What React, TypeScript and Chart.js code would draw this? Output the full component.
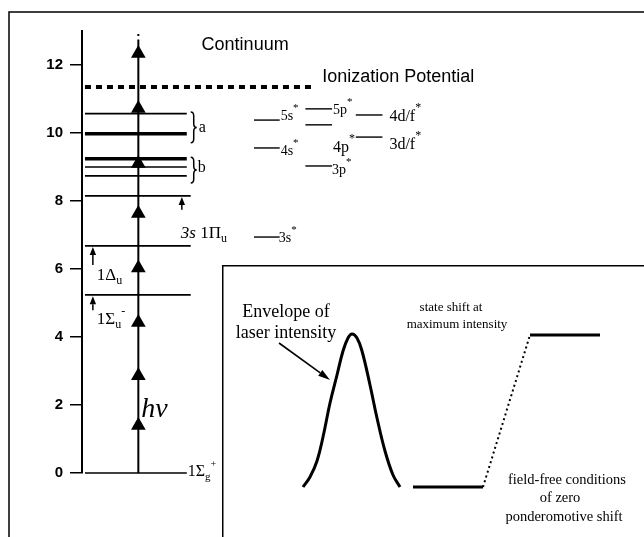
import React, { useEffect, useRef } from 'react';
import { Chart, registerables } from 'chart.js';
Chart.register(...registerables);

// ---------------- DATA (energies in eV) ----------------
const yTicks = [0, 2, 4, 6, 8, 10, 12];
const molecularLevels = [0, 5.24, 6.68, 8.15, 8.74, 9.0, 9.24, 9.98, 10.57];
const thickLevels = [9.24, 9.98];
const ionizationPotential = 11.35;
const photonArrowheads = [1.4, 2.86, 4.43, 6.03, 7.63, 9.1, 10.72, 12.34];
const photonTop = 12.75;
const rydbergNames = ['3s', '4s', '5s', '3p', '4p', '5p', '3d/f', '4d/f'];
const rydbergEnergies = [6.94, 9.56, 10.38, 9.03, 10.24, 10.71, 9.88, 10.53];
const rydbergSeries = [0, 0, 0, 1, 1, 1, 2, 2];
const groupA = [10.62, 9.71];
const groupB = [9.29, 8.53];
const stateMarkers = [
  { from: 7.74, to: 8.12 },
  { from: 6.12, to: 6.65 },
  { from: 4.79, to: 5.2 },
];

// inset (arbitrary time / intensity units)
const envelopeTime = [81, 88, 95, 101, 108, 115, 121, 126, 130, 135, 140, 148, 155, 163, 171, 178];
const envelopeIntensity = [50, 60, 76, 100, 134, 162, 186, 199, 203, 199, 186, 152, 119, 86, 62, 50];
const fieldFreeLevel = 50;
const shiftedLevel = 202;
const shiftTimes = [191, 261, 308, 378];

// ---------------- LAYOUT ----------------
const SERIF = '"Liberation Serif", "Times New Roman", serif';
const SANS = '"Liberation Sans", Arial, sans-serif';
const LEVEL_X0 = 3;
const levelEnds = [106, 110, 110, 110, 106, 106, 106, 106, 106];
const seriesCols = [[174, 200], [226, 253], [277, 304]];
const PHOTON_X = 57;
const IP_END = 236;
const MARKER_X = [101, 11, 11];
const BRACE_X = 110;

type Seg = { t: string; size: number; style?: string; weight?: string; family?: string; dy?: number };
type Lbl = { x: number; y: number; segs: Seg[]; align?: 'left' | 'center'; base?: CanvasTextBaseline };

const sup = (t: string, size = 11, dy = -9): Seg => ({ t, size, dy });
const sub = (t: string, size = 12, dy = 4): Seg => ({ t, size, dy });

const mainLabels: Lbl[] = [
  { x: 121, y: 12.59, base: 'middle', segs: [{ t: 'Continuum', size: 18, family: SANS }] },
  { x: 243, y: 11.65, base: 'middle', segs: [{ t: 'Ionization Potential', size: 18, family: SANS }] },
  { x: 118, y: 10.15, base: 'middle', segs: [{ t: 'a', size: 16 }] },
  { x: 117, y: 8.97, base: 'middle', segs: [{ t: 'b', size: 16 }] },
  { x: 100, y: 6.91, segs: [{ t: '3s', size: 17, style: 'italic' }, { t: ' 1Π', size: 17 }, sub('u')] },
  { x: 15, y: 5.68, segs: [{ t: '1Δ', size: 17 }, sub('u')] },
  { x: 15, y: 4.38, segs: [{ t: '1Σ', size: 17 }, sub('u'), sup('-', 12, -9)] },
  { x: 60, y: 1.65, segs: [{ t: 'hν', size: 28, style: 'italic' }] },
  { x: 107, y: -0.09, segs: [{ t: '1Σ', size: 16 }, sub('g', 11, 4), sup('+', 10, -9)] },
  { x: 201, y: 10.38, segs: [{ t: rydbergNames[2], size: 14 }, sup('*')] },
  { x: 254, y: 10.56, segs: [{ t: rydbergNames[5], size: 14 }, sup('*')] },
  { x: 311, y: 10.35, segs: [{ t: rydbergNames[7], size: 16 }, sup('*', 12, -10)] },
  { x: 201, y: 9.35, segs: [{ t: rydbergNames[1], size: 14 }, sup('*')] },
  { x: 254, y: 9.44, segs: [{ t: rydbergNames[4], size: 16 }, sup('*', 12, -10)] },
  { x: 311, y: 9.53, segs: [{ t: rydbergNames[6], size: 16 }, sup('*', 12, -10)] },
  { x: 253, y: 8.79, segs: [{ t: rydbergNames[3], size: 14 }, sup('*')] },
  { x: 199, y: 6.79, segs: [{ t: rydbergNames[0], size: 14 }, sup('*')] },
];

const insetLabels: Lbl[] = [
  { x: 64, y: 220, align: 'center', segs: [{ t: 'Envelope of', size: 18 }] },
  { x: 64, y: 199, align: 'center', segs: [{ t: 'laser intensity', size: 18 }] },
  { x: 229, y: 226, align: 'center', segs: [{ t: 'state shift at', size: 13 }] },
  { x: 235, y: 209, align: 'center', segs: [{ t: 'maximum intensity', size: 13 }] },
  { x: 345, y: 53, align: 'center', segs: [{ t: 'field-free conditions', size: 14.5 }] },
  { x: 338, y: 35, align: 'center', segs: [{ t: 'of zero', size: 14.5 }] },
  { x: 342, y: 16, align: 'center', segs: [{ t: 'ponderomotive shift', size: 14.5 }] },
];
const insetPointer = { from: [57, 194], to: [108, 157] };

function drawRich(ctx: CanvasRenderingContext2D, px: number, py: number, l: Lbl) {
  ctx.save();
  ctx.fillStyle = '#000';
  ctx.textAlign = 'left';
  ctx.textBaseline = l.base || 'alphabetic';
  const fonts = l.segs.map(s => `${s.style || 'normal'} ${s.weight || 'normal'} ${s.size}px ${s.family || SERIF}`);
  let x = px;
  if (l.align === 'center') {
    let total = 0;
    l.segs.forEach((s, i) => { ctx.font = fonts[i]; total += ctx.measureText(s.t).width; });
    x -= total / 2;
  }
  l.segs.forEach((s, i) => {
    ctx.font = fonts[i];
    ctx.fillText(s.t, x, py + (s.dy || 0));
    x += ctx.measureText(s.t).width;
  });
  ctx.restore();
}

function arrowHead(ctx: CanvasRenderingContext2D, x0: number, y0: number, x1: number, y1: number, len: number, half: number) {
  const a = Math.atan2(y1 - y0, x1 - x0);
  const bx = x1 - len * Math.cos(a), by = y1 - len * Math.sin(a);
  ctx.beginPath();
  ctx.moveTo(x1, y1);
  ctx.lineTo(bx + half * Math.sin(a), by - half * Math.cos(a));
  ctx.lineTo(bx - half * Math.sin(a), by + half * Math.cos(a));
  ctx.closePath();
  ctx.fill();
  return [bx, by];
}

function drawBrace(ctx: CanvasRenderingContext2D, x0: number, yTop: number, yBot: number, w: number) {
  const xm = x0 + w * 0.5, x1 = x0 + w, ym = (yTop + yBot) / 2, q = Math.min(4, (yBot - yTop) / 6);
  ctx.beginPath();
  ctx.moveTo(x0, yTop);
  ctx.quadraticCurveTo(xm, yTop, xm, yTop + q);
  ctx.lineTo(xm, ym - q);
  ctx.quadraticCurveTo(xm, ym, x1, ym);
  ctx.quadraticCurveTo(xm, ym, xm, ym + q);
  ctx.lineTo(xm, yBot - q);
  ctx.quadraticCurveTo(xm, yBot, x0, yBot);
  ctx.stroke();
}

const seg = (x0: number, y0: number, x1: number, y1: number, width: number, extra: any = {}) => ({
  type: 'scatter' as const,
  showLine: true,
  data: [{ x: x0, y: y0 }, { x: x1, y: y1 }],
  borderColor: '#000',
  backgroundColor: '#000',
  borderWidth: width,
  pointRadius: 0,
  clip: false as any,
  ...extra,
});

export default function App() {
  const mainRef = useRef<HTMLCanvasElement>(null);
  const insetRef = useRef<HTMLCanvasElement>(null);

  useEffect(() => {
    const levelSets = molecularLevels.map((e, i) =>
      seg(LEVEL_X0, e, levelEnds[i], e, thickLevels.includes(e) ? 3.5 : 1.6));
    const rydSets = rydbergEnergies.map((e, i) =>
      seg(seriesCols[rydbergSeries[i]][0], e, seriesCols[rydbergSeries[i]][1], e, 1.4));

    const mainPlugin = {
      id: 'mainDeco',
      beforeDraw(chart: any) {
        const ctx = chart.ctx as CanvasRenderingContext2D;
        ctx.save();
        ctx.fillStyle = '#fff';
        ctx.fillRect(0, 0, chart.width, chart.height);
        ctx.strokeStyle = '#000';
        ctx.lineWidth = 1.5;
        ctx.beginPath();
        ctx.moveTo(9, chart.height);
        ctx.lineTo(9, 12);
        ctx.lineTo(chart.width, 12);
        ctx.stroke();
        ctx.restore();
      },
      afterDraw(chart: any) {
        const ctx = chart.ctx as CanvasRenderingContext2D;
        const xs = chart.scales.x, ys = chart.scales.y;
        ctx.save();
        ctx.strokeStyle = '#000';
        ctx.fillStyle = '#000';
        stateMarkers.forEach((m, i) => {
          const px = xs.getPixelForValue(MARKER_X[i]);
          const y0 = ys.getPixelForValue(m.from), y1 = ys.getPixelForValue(m.to);
          const [bx, by] = arrowHead(ctx, px, y0, px, y1, 8, 3.2);
          ctx.lineWidth = 1.5;
          ctx.beginPath();
          ctx.moveTo(px, y0);
          ctx.lineTo(bx, by);
          ctx.stroke();
        });
        ctx.lineWidth = 1.5;
        [groupA, groupB].forEach(g => {
          drawBrace(ctx, xs.getPixelForValue(BRACE_X), ys.getPixelForValue(g[0]), ys.getPixelForValue(g[1]), 6);
        });
        ctx.restore();
        mainLabels.forEach(l => drawRich(ctx, xs.getPixelForValue(l.x), ys.getPixelForValue(l.y), l));
      },
    };

    const main = new Chart(mainRef.current!, {
      type: 'scatter',
      data: {
        datasets: [
          ...levelSets,
          ...rydSets,
          seg(LEVEL_X0, ionizationPotential, IP_END, ionizationPotential, 4, { borderDash: [6, 5] }),
          seg(PHOTON_X, 0, PHOTON_X, photonTop, 2),
          {
            type: 'scatter',
            data: photonArrowheads.map(y => ({ x: PHOTON_X, y })),
            pointStyle: 'triangle',
            pointRadius: 8.5,
            backgroundColor: '#000',
            borderColor: '#000',
            borderWidth: 0,
            clip: false as any,
          },
          {
            type: 'scatter',
            data: [{ x: PHOTON_X, y: 12.88 }],
            pointStyle: 'rect',
            pointRadius: 1.4,
            backgroundColor: '#000',
            borderWidth: 0,
          },
        ] as any,
      },
      options: {
        animation: false,
        responsive: false,
        events: [],
        layout: { padding: { left: 8, right: 2, top: 31, bottom: 64 } },
        plugins: { legend: { display: false }, tooltip: { enabled: false } },
        scales: {
          x: { type: 'linear', display: false, min: 0, max: 560 },
          y: {
            type: 'linear',
            min: 0,
            max: 13,
            afterFit: (s: any) => { s.width = 74; },
            afterBuildTicks: (s: any) => { s.ticks = yTicks.map(v => ({ value: v })); },
            border: { display: true, color: '#000', width: 2 },
            grid: { drawOnChartArea: false, drawTicks: true, tickLength: 12, color: '#000', lineWidth: 1.5 },
            ticks: { color: '#000', padding: 7, font: { family: SANS, size: 15, weight: 'bold' } },
          },
        },
      } as any,
      plugins: [mainPlugin],
    });

    const envelope = {
      type: 'scatter' as const,
      showLine: true,
      data: envelopeTime.map((t, i) => ({ x: t, y: envelopeIntensity[i] })),
      borderColor: '#000',
      borderWidth: 3,
      pointRadius: 0,
      tension: 0.4,
      clip: false,
    };

    const insetPlugin = {
      id: 'insetDeco',
      beforeDraw(chart: any) {
        const ctx = chart.ctx as CanvasRenderingContext2D;
        ctx.save();
        ctx.fillStyle = '#fff';
        ctx.fillRect(0, 0, chart.width, chart.height);
        ctx.strokeStyle = '#000';
        ctx.lineWidth = 1.5;
        ctx.beginPath();
        ctx.moveTo(0.75, chart.height);
        ctx.lineTo(0.75, 0.75);
        ctx.lineTo(chart.width, 0.75);
        ctx.stroke();
        ctx.restore();
      },
      afterDraw(chart: any) {
        const ctx = chart.ctx as CanvasRenderingContext2D;
        const xs = chart.scales.x, ys = chart.scales.y;
        ctx.save();
        ctx.fillStyle = '#000';
        ctx.strokeStyle = '#000';
        const x0 = xs.getPixelForValue(insetPointer.from[0]), y0 = ys.getPixelForValue(insetPointer.from[1]);
        const x1 = xs.getPixelForValue(insetPointer.to[0]), y1 = ys.getPixelForValue(insetPointer.to[1]);
        const [bx, by] = arrowHead(ctx, x0, y0, x1, y1, 12, 3.5);
        ctx.lineWidth = 1.6;
        ctx.beginPath();
        ctx.moveTo(x0, y0);
        ctx.lineTo(bx, by);
        ctx.stroke();
        ctx.restore();
        insetLabels.forEach(l => drawRich(ctx, xs.getPixelForValue(l.x), ys.getPixelForValue(l.y), l));
      },
    };

    const inset = new Chart(insetRef.current!, {
      type: 'scatter',
      data: {
        datasets: [
          envelope,
          seg(shiftTimes[0], fieldFreeLevel, shiftTimes[1], fieldFreeLevel, 3),
          seg(shiftTimes[1], fieldFreeLevel, shiftTimes[2], shiftedLevel, 2, { borderDash: [2, 3] }),
          seg(shiftTimes[2], shiftedLevel, shiftTimes[3], shiftedLevel, 3),
        ] as any,
      },
      options: {
        animation: false,
        responsive: false,
        events: [],
        layout: { padding: 0 },
        plugins: { legend: { display: false }, tooltip: { enabled: false } },
        scales: {
          x: { type: 'linear', display: false, min: 0, max: 422 },
          y: { type: 'linear', display: false, min: 0, max: 272 },
        },
      } as any,
      plugins: [insetPlugin],
    });

    return () => { main.destroy(); inset.destroy(); };
  }, []);

  return (
    <div style={{ position: 'absolute', left: 0, top: 0, width: 644, height: 537, background: '#fff' }}>
      <canvas ref={mainRef} width={644} height={537} style={{ position: 'absolute', left: 0, top: 0 }} />
      <canvas ref={insetRef} width={422} height={272} style={{ position: 'absolute', left: 222, top: 265 }} />
    </div>
  );
}
